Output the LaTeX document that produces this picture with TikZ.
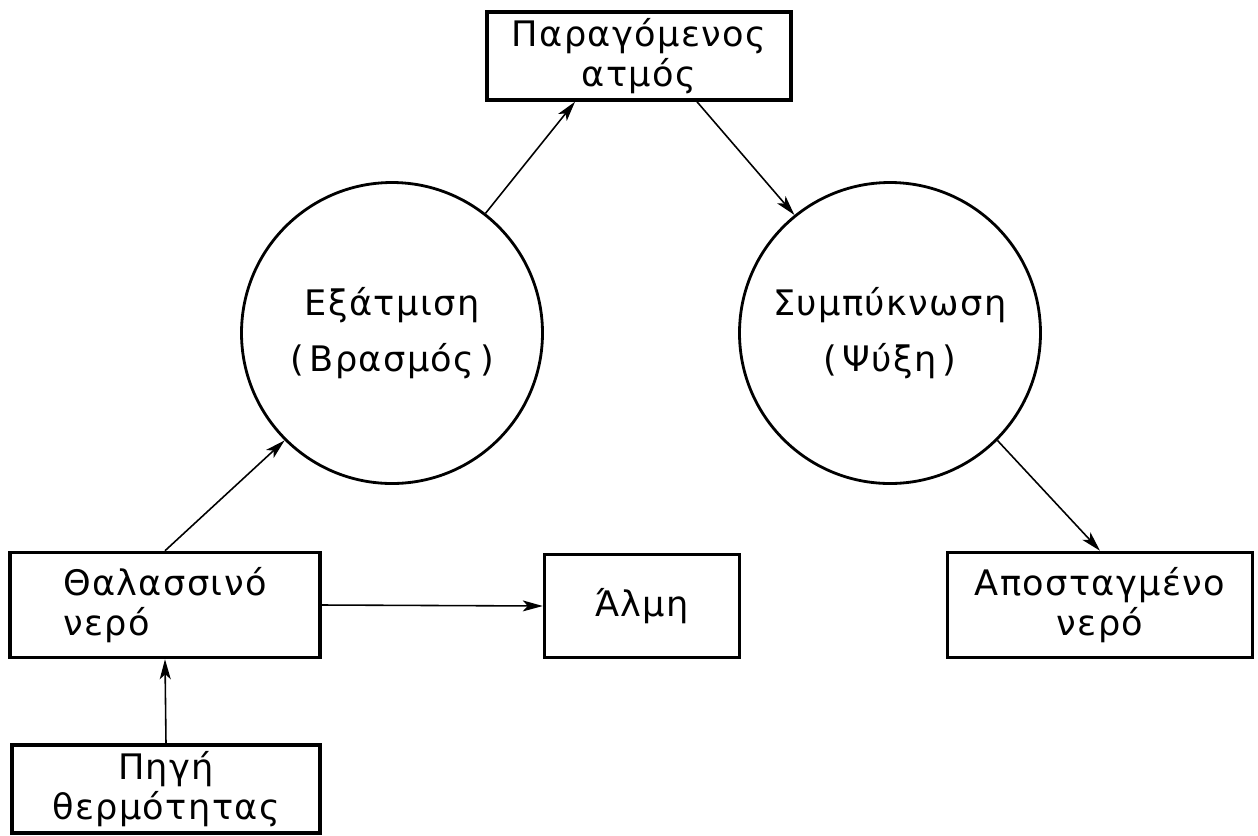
\documentclass[tikz,border=0pt]{standalone}
\usepackage{fontspec}
\setmainfont{DejaVu Sans}
\newfontfamily\typefont[LetterSpace=4]{DejaVu Sans}
\usetikzlibrary{arrows.meta}
\tikzset{
   line/.style ={
      -, line width=0.9pt, color=black,
   },
   arrow/.style ={
      -{Stealth[length=4mm,width=2.2mm,inset=1mm]}, line width=0.9pt, color=black,
   },
   box/.style ={
      rectangle, draw, line width=2pt, align=center,
      font=\typefont\fontsize{20}{23}\selectfont,
   },
   stage/.style ={
      circle, draw, line width=1.6pt, align=center, minimum size=60.2mm,
      font=\typefont\fontsize{20}{23}\selectfont,
   },
}

\begin{document}
\begin{tikzpicture}

      \useasboundingbox (0mm,0mm) rectangle (251.6mm,-167mm);

      \node[
         box,
         minimum width=60.8mm,
         minimum height=17.6mm,
      ] (steam) at (127.8mm,-11.2mm){Παραγόμενος\\ατμός};

      \node[stage] (boil) at (78.4mm,-66.6mm){Εξάτμιση\\[9pt](\,Βρασμός\,)};

      \node[stage] (cool) at (178mm,-66.6mm){Συμπύκνωση\\[9pt](\,Ψύξη\,)};

      \node[
         box,
         align=left,
         minimum width=62mm,
         minimum height=21mm,
      ] (sea) at (33mm,-121mm){Θαλασσινό\\νερό};

      \node[
         box,
         minimum width=61.6mm,
         minimum height=17.4mm,
      ] (heat) at (33.2mm,-157.8mm){Πηγή\\θερμότητας};

      \node[
         box,
         minimum width=39mm,
         minimum height=20.6mm,
      ] (brine) at (128.4mm,-121.2mm){Άλμη};

      \node[
         box,
         minimum width=61mm,
         minimum height=21mm,
      ] (distil) at (220mm,-121mm){Αποσταγμένο\\νερό};



      \draw[arrow] (heat.north)  -- (sea.south);
      \draw[arrow] (sea.north)   -- (boil.225);
      \draw[arrow] (sea.east)    -- (brine.west);
      \draw[arrow] (boil.52)     -- ([xshift=-12.8mm]steam.south);
      \draw[arrow] ([xshift=11.6mm]steam.south) -- (cool.129);
      \draw[arrow] (cool.-45)    -- (distil.north);

   \end{tikzpicture}
\end{document}
